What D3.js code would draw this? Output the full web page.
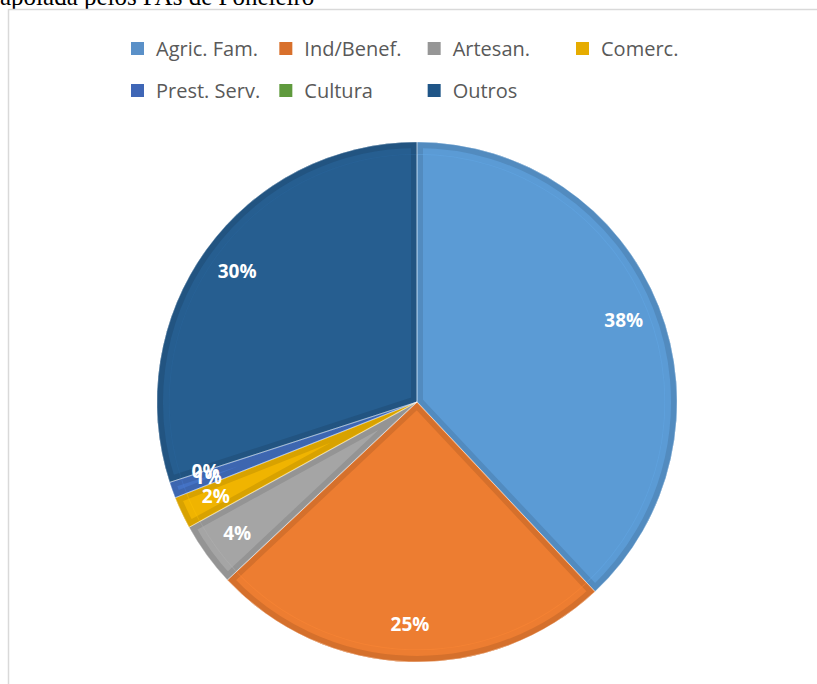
<!DOCTYPE html>
<html>
<head>
<meta charset="utf-8">
<script src="https://cdn.jsdelivr.net/npm/d3@7"></script>
<style>
  html, body { margin: 0; padding: 0; background: #fff; }
  svg { display: block; }
</style>
</head>
<body>
<svg id="chart" width="817" height="684"></svg>
<script>
// Category names, shares (%) and colours of the pie
const categories = ["Agric. Fam.", "Ind/Benef.", "Artesan.", "Comerc.", "Prest. Serv.", "Cultura", "Outros"];
const shares = [38, 25, 4, 2, 1, 0, 30];
const sliceColors = ["#5B9BD5", "#ED7D31", "#A5A5A5", "#F0B400", "#4472C4", "#70AD47", "#265E90"];
const legendColors = ["#5A90C8", "#D8702C", "#969696", "#E6AC00", "#3F66B6", "#5F9A3D", "#1F5587"];
const captionText = "apoiada pelos PAs de Poneleiro";

const W = 817, H = 684;
const svg = d3.select("#chart");

// caption line above the chart frame (its upper part runs off the page)
svg.append("text")
  .attr("x", 0).attr("y", 4.5)
  .attr("font-family", "Liberation Serif, serif")
  .attr("font-size", 25)
  .attr("fill", "#000")
  .text(captionText);

// chart frame
svg.append("rect")
  .attr("x", 8.5).attr("y", 9.5)
  .attr("width", W).attr("height", H)
  .attr("fill", "none")
  .attr("stroke", "#D9D9D9")
  .attr("stroke-width", 1.5);

// legend: four columns, two rows
const colX = d3.scaleLinear().domain([0, 3]).range([131, 576]);
const rowY = d3.scaleLinear().domain([0, 1]).range([49, 91]);
const legend = svg.append("g");
const items = legend.selectAll("g").data(categories).join("g")
  .attr("transform", (d, i) => `translate(${colX(i % 4)},${rowY(Math.floor(i / 4))})`);
items.append("rect")
  .attr("x", 0).attr("y", -7)
  .attr("width", 13).attr("height", 13)
  .attr("fill", (d, i) => legendColors[i]);
items.append("text")
  .attr("x", 25).attr("y", 0)
  .attr("dy", "0.35em")
  .attr("font-family", "Open Sans, sans-serif")
  .attr("font-size", 20)
  .attr("fill", "#595959")
  .text(d => d);

// pie
const cx = 417, cy = 402, R = 260;
const data = categories.map((c, i) => ({ name: c, value: shares[i], i }));
const pie = d3.pie().value(d => d.value).sort(null);
const arcs = pie(data);
const arc = d3.arc().innerRadius(0).outerRadius(R);
const labelArc = d3.arc().innerRadius(R * 0.855).outerRadius(R * 0.855);

const g = svg.append("g").attr("transform", `translate(${cx},${cy})`);
const defs = svg.append("defs");

arcs.forEach((a, k) => {
  if (a.endAngle - a.startAngle <= 0) return;
  const id = "slice-clip-" + k;
  defs.append("clipPath").attr("id", id).append("path").attr("d", arc(a));
  const col = d3.color(sliceColors[a.data.i]);
  // slice body
  g.append("path")
    .attr("d", arc(a))
    .attr("fill", col.formatHex());
  // bevelled rim along the slice edges
  g.append("path")
    .attr("d", arc(a))
    .attr("clip-path", `url(#${id})`)
    .attr("fill", "none")
    .attr("stroke", col.darker(0.3).formatHex())
    .attr("stroke-width", 12)
    .attr("stroke-linejoin", "round");
  g.append("path")
    .attr("d", arc(a))
    .attr("clip-path", `url(#${id})`)
    .attr("fill", "none")
    .attr("stroke", col.brighter(0.25).formatHex())
    .attr("stroke-opacity", 0.4)
    .attr("stroke-width", 2)
    .attr("transform", "scale(0.955)");
});

// thin separators between slices
g.selectAll("path.sep").data(arcs.filter(a => a.endAngle > a.startAngle)).join("path")
  .attr("class", "sep")
  .attr("d", arc)
  .attr("fill", "none")
  .attr("stroke", "#ffffff")
  .attr("stroke-opacity", 0.45)
  .attr("stroke-width", 0.8);

// percentage labels
g.selectAll("text.lbl").data(arcs).join("text")
  .attr("class", "lbl")
  .attr("transform", d => {
    const [x, y] = labelArc.centroid(d);
    return `translate(${x},${y})`;
  })
  .attr("text-anchor", "middle")
  .attr("dy", "0.36em")
  .attr("font-family", "Open Sans, sans-serif")
  .attr("font-weight", "bold")
  .attr("font-size", 19)
  .attr("fill", "#ffffff")
  .text(d => d.data.value + "%");
</script>
</body>
</html>
